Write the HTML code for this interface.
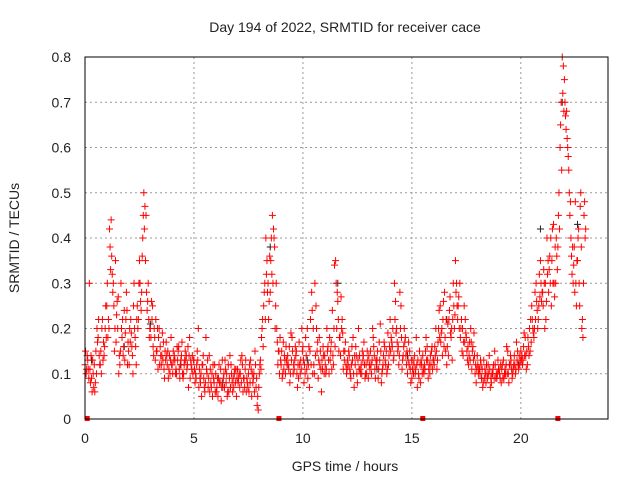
<!DOCTYPE html>
<html><head><meta charset="utf-8"><style>
body{margin:0;background:#fff}
svg text{font-family:"Liberation Sans",sans-serif;font-size:14px;fill:#222}
</style></head><body>
<svg id="chart" width="640" height="480" viewBox="0 0 640 480">
<text x="345" y="32" text-anchor="middle">Day 194 of 2022, SRMTID for receiver cace</text>
<text x="345" y="471" text-anchor="middle">GPS time / hours</text>
<text transform="translate(19,238) rotate(-90)" text-anchor="middle">SRMTID / TECUs</text>
<g id="grid"></g>
<g id="axes"></g>
<g id="marks"></g>
<rect x="85" y="57" width="523" height="362" fill="none" stroke="#000" stroke-width="1"/>
</svg>
<script>
const xTicks=[0,5,10,15,20];
const yTicks=[0,0.1,0.2,0.3,0.4,0.5,0.6,0.7,0.8];
const yTickLabels=["0","0.1","0.2","0.3","0.4","0.5","0.6","0.7","0.8"];
const seriesA=[.12,.14,.30,.09,.07,.15,.18,.12,.22,.16,
.25,.2,.44,.3,.35,.2,.12,.18,.24,.28,
.15,.22,.1,.18,.25,.35,.28,.5,.45,.3,
.2,.25,.18,.15,.2,.12,.17,.13,.15,.1,
.12,.14,.1,.16,.13,.09,.15,.12,.18,.11,
.13,.09,.2,.08,.12,.06,.1,.14,.07,.09,
.1,.05,.08,.13,.07,.1,.06,.12,.09,.08,
.11,.07,.14,.09,.06,.1,.13,.08,.15,.03,
.1,.18,.25,.4,.3,.28,.45,.38,.2,.15,
.12,.17,.1,.14,.08,.18,.11,.15,.09,.13,
.16,.1,.2,.07,.28,.12,.25,.09,.15,.11,
.14,.2,.1,.17,.12,.35,.26,.18,.22,.13,
.1,.15,.09,.18,.12,.08,.14,.1,.17,.12,
.09,.15,.2,.11,.13,.17,.08,.14,.12,.19,
.22,.16,.3,.2,.12,.25,.14,.18,.1,.15,
.09,.12,.18,.1,.08,.14,.11,.16,.12,.15,
.13,.2,.17,.25,.14,.28,.12,.22,.18,.3,
.35,.22,.3,.15,.25,.18,.12,.2,.16,.1,
.14,.11,.09,.13,.08,.12,.07,.1,.15,.09,
.11,.08,.13,.1,.15,.12,.09,.14,.17,.11,
.15,.13,.18,.12,.2,.25,.18,.3,.22,.35,
.28,.2,.4,.33,.25,.43,.3,.38,.6,.8,
.75,.68,.55,.4,.3,.48,.35,.25,.2,.45];
const seriesB=[.1,.11,.08,.13,.06,.2,.14,.1,.17,.25,
.18,.38,.32,.15,.23,.1,.3,.14,.19,.12,
.2,.16,.3,.12,.22,.26,.4,.47,.24,.18,
.26,.14,.22,.11,.16,.19,.09,.14,.11,.18,
.15,.1,.13,.09,.17,.12,.14,.07,.13,.1,
.08,.15,.11,.05,.09,.18,.07,.11,.05,.12,
.07,.12,.04,.09,.11,.06,.14,.08,.1,.05,
.09,.13,.06,.11,.08,.12,.05,.1,.07,.02,
.13,.22,.3,.35,.26,.4,.42,.25,.12,.18,
.09,.14,.13,.11,.19,.1,.16,.07,.12,.2,
.08,.14,.12,.22,.1,.3,.15,.18,.06,.14,
.1,.16,.13,.24,.34,.2,.15,.27,.11,.17,
.13,.11,.16,.07,.14,.2,.1,.13,.09,.15,
.12,.1,.16,.13,.09,.21,.11,.16,.1,.14,
.18,.13,.26,.15,.28,.11,.2,.12,.17,.08,
.13,.1,.07,.15,.12,.1,.18,.09,.14,.11,
.16,.11,.24,.19,.26,.15,.21,.27,.13,.2,
.3,.27,.2,.14,.22,.13,.17,.11,.19,.08,
.1,.13,.07,.11,.1,.14,.08,.12,.09,.13,
.09,.12,.1,.16,.08,.13,.11,.1,.15,.12,
.14,.19,.11,.16,.22,.2,.28,.24,.32,.26,
.33,.22,.35,.3,.42,.27,.36,.5,.7,.78,
.67,.6,.45,.32,.38,.25,.42,.5,.18,.4];
const seriesC=[.15,.13,.11,.06,.12,.1,.22,.15,.13,.2,
.3,.42,.36,.25,.17,.27,.15,.22,.13,.24,
.12,.19,.25,.16,.2,.3,.36,.42,.28,.22,
.18,.16,.13,.2,.12,.14,.11,.17,.09,.13,
.1,.13,.16,.11,.14,.1,.13,.16,.09,.14,
.11,.12,.07,.1,.14,.08,.13,.06,.1,.08,
.06,.09,.11,.07,.13,.05,.09,.1,.07,.11,
.08,.1,.12,.07,.09,.06,.11,.09,.12,.05,
.12,.2,.28,.32,.22,.35,.3,.2,.17,.1,
.15,.11,.16,.12,.1,.15,.13,.1,.17,.11,
.13,.18,.09,.15,.24,.1,.2,.13,.11,.16,
.12,.15,.18,.11,.2,.3,.22,.14,.19,.15,
.11,.14,.12,.1,.16,.13,.11,.15,.12,.1,
.14,.12,.18,.09,.15,.13,.1,.17,.15,.12,
.15,.2,.22,.17,.14,.18,.16,.14,.13,.11,
.11,.14,.12,.09,.13,.11,.15,.13,.1,.16,
.12,.15,.2,.17,.22,.18,.16,.24,.2,.25,
.28,.25,.18,.2,.17,.15,.14,.17,.13,.12,
.12,.1,.11,.09,.12,.1,.09,.11,.12,.1,
.1,.11,.09,.12,.1,.14,.1,.12,.13,.14,
.13,.16,.14,.18,.15,.22,.2,.26,.25,.3,
.25,.3,.32,.36,.35,.3,.4,.45,.65,.72,
.7,.62,.5,.36,.34,.3,.4,.47,.22,.48];
const seriesD=[.11,.09,.14,.1,.08,.17,.12,.2,.14,.18,
.22,.33,.28,.2,.26,.14,.2,.16,.22,.17,
.17,.14,.2,.22,.3,.24,.45,.35,.26,.2,
.22,.2,.15,.18,.14,.13,.15,.12,.14,.12,
.13,.11,.15,.12,.1,.13,.11,.14,.12,.13,
.1,.13,.09,.12,.07,.11,.09,.08,.12,.06,
.09,.08,.07,.1,.08,.12,.07,.06,.11,.09,
.1,.08,.09,.13,.07,.08,.1,.06,.09,.07,
.11,.16,.22,.28,.36,.32,.4,.3,.15,.13,
.1,.13,.12,.16,.13,.12,.14,.12,.1,.15,
.12,.11,.16,.12,.2,.14,.17,.12,.13,.1,
.11,.13,.15,.14,.16,.28,.18,.2,.15,.12,
.12,.1,.13,.14,.1,.11,.12,.14,.1,.13,
.11,.13,.14,.12,.11,.15,.12,.13,.11,.16,
.17,.14,.19,.16,.2,.13,.17,.15,.12,.13,
.1,.11,.13,.12,.1,.12,.13,.11,.12,.13,
.14,.13,.18,.2,.16,.22,.14,.19,.22,.23,
.25,.2,.22,.17,.19,.16,.13,.15,.14,.11,
.11,.12,.08,.1,.09,.11,.1,.09,.1,.11,
.12,.09,.11,.1,.12,.11,.12,.11,.12,.13,
.12,.14,.15,.14,.17,.19,.22,.2,.27,.28,
.3,.26,.28,.4,.3,.38,.33,.42,.55,.68,
.64,.58,.48,.38,.28,.35,.3,.38,.3,.42];
const blackTimes=[0.3,1.8,3.0,4.4,6.3,8.5,10.2,11.6,13.4,14.8,16.6,18.2,19.9,20.9,21.9,22.6];
const blackValues=[.13,.16,.21,.12,.08,.38,.13,.3,.11,.14,.22,.09,.12,.42,.7,.43];
const zeroTimes=[0.1,8.9,15.5,21.7];
const step=0.1;
const X0=85,X1=608,Y0=419,Y1=57;
const xs=t=>X0+t*(X1-X0)/24;
const ys=v=>Y0-v*(Y0-Y1)/0.8;
const NS="http://www.w3.org/2000/svg";
const grid=document.getElementById('grid'),axes=document.getElementById('axes'),marks=document.getElementById('marks');
function mk(tag,attrs,parent){const e=document.createElementNS(NS,tag);for(const k in attrs)e.setAttribute(k,attrs[k]);parent.appendChild(e);return e;}
xTicks.forEach(t=>{
  if(t>0){const g=mk('line',{x1:xs(t),x2:xs(t),y1:Y1,y2:Y0,stroke:'#999','stroke-dasharray':'2,3','stroke-width':1},grid);
  
  }
  const l=mk('text',{x:xs(t),y:Y0+24,'text-anchor':'middle'},axes);l.textContent=t;
  
  
});
yTicks.forEach((v,i)=>{
  if(v>0&&v<0.8){const g=mk('line',{x1:X0,x2:X1,y1:ys(v),y2:ys(v),stroke:'#999','stroke-dasharray':'2,3','stroke-width':1},grid);
  
  }
  const l=mk('text',{x:X0-14,y:ys(v)+5,'text-anchor':'end'},axes);l.textContent=yTickLabels[i];
  
  
});
function cross(t,v,color){
  const x=xs(t),y=ys(v);
  const p=mk('path',{d:`M${x-3.5} ${y}h7M${x} ${y-3.5}v7`,stroke:color,'stroke-width':1,fill:'none'},marks);
  
  
}
blackTimes.forEach((t,i)=>cross(t,blackValues[i],'#222'));
seriesA.forEach((v,i)=>cross(i*step,v,'#f00'));
seriesB.forEach((v,i)=>cross(i*step+0.05,v,'#f00'));
seriesC.forEach((v,i)=>cross(i*step+0.025,v,'#f00'));
seriesD.forEach((v,i)=>cross(i*step+0.075,v,'#f00'));
zeroTimes.forEach(t=>{
  const r=mk('rect',{x:xs(t)-2.5,y:Y0-3,width:5,height:5,fill:'#f00'},marks);
  
  
});
</script>
</body></html>
